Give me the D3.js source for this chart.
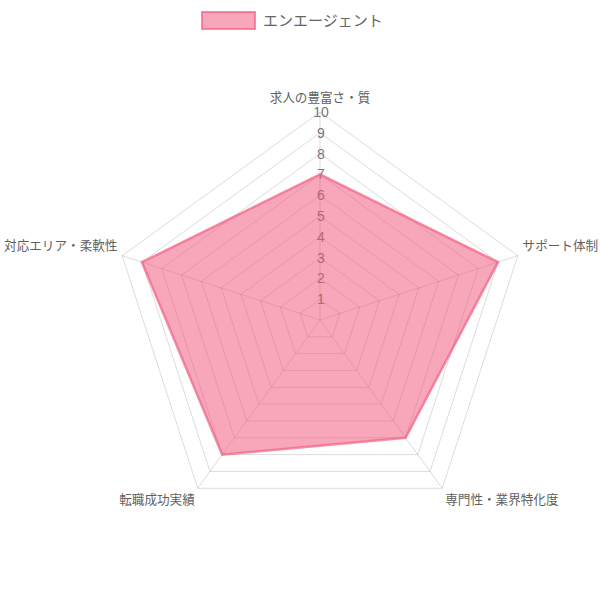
<!DOCTYPE html>
<html>
<head>
<meta charset="utf-8">
<script src="https://cdn.jsdelivr.net/npm/d3@7"></script>
<style>
  body { margin: 0; background: #fff; }
  svg text { font-family: "Liberation Sans", Arial, "Noto Sans CJK JP", sans-serif; }
</style>
</head>
<body>
<div id="chart"></div>
<script>
// data
var axisLabels = ["求人の豊富さ・質", "サポート体制", "専門性・業界特化度", "転職成功実績", "対応エリア・柔軟性"];
var seriesName = "エンエージェント";
var seriesValues = [7, 9, 7, 8, 9];
var tickValues = [1, 2, 3, 4, 5, 6, 7, 8, 9, 10];

var width = 600, height = 600;
var cx = 320, cy = 320;
var fillColor = "rgba(240, 80, 115, 0.5)";
var lineColor = "rgba(242, 95, 130, 0.7)";

var svg = d3.select("#chart").append("svg")
  .attr("width", width)
  .attr("height", height);

var r_scale = d3.scaleLinear().domain([0, 10]).range([0, 208]);

function angleOf(i) {
  return -Math.PI / 2 + i * 2 * Math.PI / axisLabels.length;
}
function pointAt(i, v) {
  var a = angleOf(i);
  return [cx + r_scale(v) * Math.cos(a), cy + r_scale(v) * Math.sin(a)];
}

var g = svg.append("g");

// grid rings
g.selectAll(".ring")
  .data(tickValues)
  .join("polygon")
  .attr("class", "ring")
  .attr("points", function(t) {
    return axisLabels.map(function(d, i) { return pointAt(i, t).join(","); }).join(" ");
  })
  .attr("fill", "none")
  .attr("stroke", "rgba(0,0,0,0.14)")
  .attr("stroke-width", 1);

// angle lines
g.selectAll(".spoke")
  .data(axisLabels)
  .join("line")
  .attr("class", "spoke")
  .attr("x1", cx).attr("y1", cy)
  .attr("x2", function(d, i) { return pointAt(i, 10)[0]; })
  .attr("y2", function(d, i) { return pointAt(i, 10)[1]; })
  .attr("stroke", "rgba(0,0,0,0.14)")
  .attr("stroke-width", 1);

// tick labels (drawn under the data area)
g.selectAll(".tick")
  .data(tickValues)
  .join("text")
  .attr("class", "tick")
  .attr("x", cx + 1)
  .attr("y", function(t) { return cy - r_scale(t); })
  .attr("dominant-baseline", "central")
  .attr("text-anchor", "middle")
  .attr("font-size", "14px")
  .attr("fill", "#777")
  .text(function(t) { return t; });

// point labels
g.selectAll(".plabel")
  .data(axisLabels)
  .join("text")
  .attr("class", "plabel")
  .attr("x", function(d, i) { return cx + (r_scale(10) + 5) * Math.cos(angleOf(i)); })
  .attr("y", function(d, i) {
    var s = Math.sin(angleOf(i));
    if (s < -0.99) return cy + (r_scale(10) + 5) * s - 9.5;
    return cy + (r_scale(10) + 5) * s + (s > 0 ? 8 : -8);
  })
  .attr("text-anchor", function(d, i) {
    var c = Math.cos(angleOf(i));
    return Math.abs(c) < 0.1 ? "middle" : (c > 0 ? "start" : "end");
  })
  .attr("dominant-baseline", "central")
  .attr("font-size", "12.6px")
  .attr("fill", "#5f5f5f")
  .text(function(d) { return d; });

// data area
g.append("polygon")
  .attr("points", seriesValues.map(function(v, i) { return pointAt(i, v).join(","); }).join(" "))
  .attr("fill", fillColor)
  .attr("stroke", lineColor)
  .attr("stroke-width", 2.5)
  .attr("stroke-linejoin", "miter");

// legend
var legend = svg.append("g");
legend.append("rect")
  .attr("x", 202).attr("y", 12)
  .attr("width", 53).attr("height", 17)
  .attr("fill", fillColor)
  .attr("stroke", lineColor)
  .attr("stroke-width", 2);
legend.append("text")
  .attr("x", 263).attr("y", 20.5)
  .attr("dominant-baseline", "central")
  .attr("font-size", "15px")
  .attr("fill", "#666")
  .text(seriesName);
</script>
</body>
</html>
